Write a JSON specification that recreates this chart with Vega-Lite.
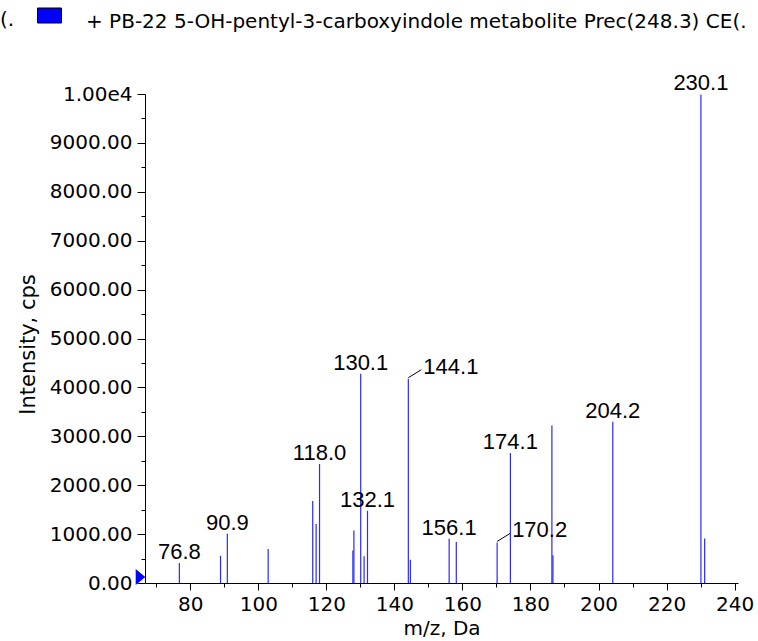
{
  "$schema": "https://vega.github.io/schema/vega-lite/v6.json",
  "width": 593,
  "height": 489,
  "autosize": {"type": "none"},
  "padding": {"left": 145, "top": 94, "right": 20, "bottom": 58},
  "background": "white",
  "config": {
    "view": {"stroke": null},
    "font": "DejaVu Sans",
    "axis": {"grid": false, "domainColor": "#000000", "tickColor": "#000000", "labelColor": "#000000", "titleColor": "#000000", "labelFont": "DejaVu Sans", "titleFont": "DejaVu Sans", "titleFontWeight": "normal"}
  },
  "title": {
    "text": "m/z, Da",
    "frame": "group",
    "anchor": "middle",
    "orient": "top",
    "offset": 89,
    "baseline": "alphabetic",
    "fontSize": 20,
    "fontWeight": "normal",
    "font": "DejaVu Sans",
    "color": "#000000",
    "dx": -10
  },
  "resolve": {"axis": {"x": "independent", "y": "independent"}},
  "datasets": {
    "peaks": [
      {"mz": 76.8, "intensity": 409, "label": "76.8"},
      {"mz": 88.9, "intensity": 558, "label": ""},
      {"mz": 90.9, "intensity": 1008, "label": "90.9"},
      {"mz": 102.9, "intensity": 695, "label": ""},
      {"mz": 116.0, "intensity": 1677, "label": ""},
      {"mz": 117.0, "intensity": 1207, "label": ""},
      {"mz": 118.0, "intensity": 2434, "label": "118.0"},
      {"mz": 127.8, "intensity": 667, "label": ""},
      {"mz": 128.1, "intensity": 1076, "label": ""},
      {"mz": 130.1, "intensity": 4280, "label": "130.1"},
      {"mz": 131.1, "intensity": 545, "label": ""},
      {"mz": 132.1, "intensity": 1479, "label": "132.1"},
      {"mz": 144.1, "intensity": 4178, "label": "144.1"},
      {"mz": 144.7, "intensity": 476, "label": ""},
      {"mz": 156.1, "intensity": 906, "label": "156.1"},
      {"mz": 158.2, "intensity": 838, "label": ""},
      {"mz": 170.2, "intensity": 830, "label": "170.2"},
      {"mz": 174.1, "intensity": 2658, "label": "174.1"},
      {"mz": 186.3, "intensity": 3223, "label": ""},
      {"mz": 186.6, "intensity": 565, "label": ""},
      {"mz": 204.2, "intensity": 3299, "label": "204.2"},
      {"mz": 230.1, "intensity": 9990, "label": "230.1"},
      {"mz": 231.2, "intensity": 912, "label": ""}
    ]
  },
  "data": {"name": "peaks"},
  "layer": [
    {
      "mark": {"type": "rule", "color": "#2a2aff", "strokeWidth": 1.2},
      "encoding": {
        "x": {
          "field": "mz",
          "type": "quantitative",
          "scale": {"domain": [66.7, 241], "nice": false, "zero": false},
          "axis": {
            "orient": "bottom",
            "title": "m/z, Da",
            "titleFontSize": 20,
            "titleY": 51,
            "titleBaseline": "alphabetic",
            "values": [80, 100, 120, 140, 160, 180, 200, 220, 240],
            "format": "d",
            "labelFontSize": 20,
            "labelPadding": 4,
            "tickSize": 7,
            "labelFlush": false,
            "labelOverlap": false
          }
        },
        "y": {
          "field": "intensity",
          "type": "quantitative",
          "scale": {"domain": [0, 10000], "nice": false},
          "axis": {
            "orient": "left",
            "title": "Intensity, cps",
            "titleFontSize": 21,
            "titleX": -117,
            "titleY": 250,
            "titleAlign": "center",
            "titleBaseline": "middle",
            "values": [0, 1000, 2000, 3000, 4000, 5000, 6000, 7000, 8000, 9000, 10000],
            "labelExpr": "datum.value == 10000 ? '1.00e4' : format(datum.value, '.2f')",
            "labelFontSize": 20,
            "labelPadding": 5,
            "tickSize": 8,
            "labelFlush": false,
            "labelOverlap": false
          }
        },
        "y2": {"datum": 0}
      }
    },
    {
      "transform": [{"filter": "datum.label != '' && datum.label != '144.1' && datum.label != '170.2'"}],
      "mark": {"type": "text", "align": "center", "baseline": "alphabetic", "dy": -4, "fontSize": 22, "font": "Liberation Sans", "color": "#000000"},
      "encoding": {
        "x": {"field": "mz", "type": "quantitative", "axis": null},
        "y": {"field": "intensity", "type": "quantitative", "axis": null},
        "text": {"field": "label"}
      }
    },
    {
      "transform": [{"filter": "datum.label == '144.1' || datum.label == '170.2'"}],
      "mark": {"type": "text", "align": "left", "baseline": "alphabetic", "dx": 15, "dy": -5, "fontSize": 22, "font": "Liberation Sans", "color": "#000000"},
      "encoding": {
        "x": {"field": "mz", "type": "quantitative", "axis": null},
        "y": {"field": "intensity", "type": "quantitative", "axis": null},
        "text": {"field": "label"}
      }
    },
    {
      "transform": [{"filter": "datum.label == '144.1' || datum.label == '170.2'"}],
      "mark": {"type": "rule", "color": "#000000", "strokeWidth": 1, "yOffset": -1, "x2Offset": 13, "y2Offset": -9},
      "encoding": {
        "x": {
          "field": "mz",
          "type": "quantitative",
          "axis": {"orient": "bottom", "title": null, "labels": false, "domain": false, "tickSize": 4, "values": [70, 90, 110, 130, 150, 170, 190, 210, 230]}
        },
        "y": {
          "field": "intensity",
          "type": "quantitative",
          "axis": {"orient": "left", "title": null, "labels": false, "domain": false, "tickSize": 4, "values": [500, 1500, 2500, 3500, 4500, 5500, 6500, 7500, 8500, 9500]}
        },
        "x2": {"field": "mz"},
        "y2": {"field": "intensity"}
      }
    },
    {
      "data": {"values": [{}]},
      "mark": {"type": "point", "filled": true, "opacity": 1, "shape": "M-0.6,-1L0.6,0L-0.6,1Z", "size": 256, "xOffset": -4.5, "yOffset": -6, "strokeWidth": 0},
      "encoding": {
        "x": {"datum": 66.7, "type": "quantitative", "axis": null},
        "y": {"datum": 0, "type": "quantitative", "axis": null},
        "fill": {
          "datum": "+ PB-22 5-OH-pentyl-3-carboxyindole metabolite Prec(248.3) CE(.",
          "type": "nominal",
          "scale": {"range": ["#0000ff"]},
          "legend": {
            "orient": "none",
            "legendX": -145,
            "legendY": -85,
            "padding": 0,
            "title": "(.",
            "titleOrient": "left",
            "titleFontSize": 20,
            "titleFontWeight": "normal",
            "titleFont": "DejaVu Sans",
            "titleColor": "#000000",
            "titlePadding": 22,
            "titleBaseline": "middle",
            "labelFontSize": 20,
            "labelFont": "DejaVu Sans",
            "labelColor": "#000000",
            "labelOffset": 24,
            "labelLimit": 800,
            "symbolType": "M-1,-1.125L1,-1.125L1,0.125L-1,0.125Z",
            "symbolSize": 576,
            "symbolFillColor": "#0000ff",
            "symbolStrokeColor": "#000000",
            "symbolStrokeWidth": 1,
            "symbolOpacity": 1
          }
        }
      }
    }
  ]
}
